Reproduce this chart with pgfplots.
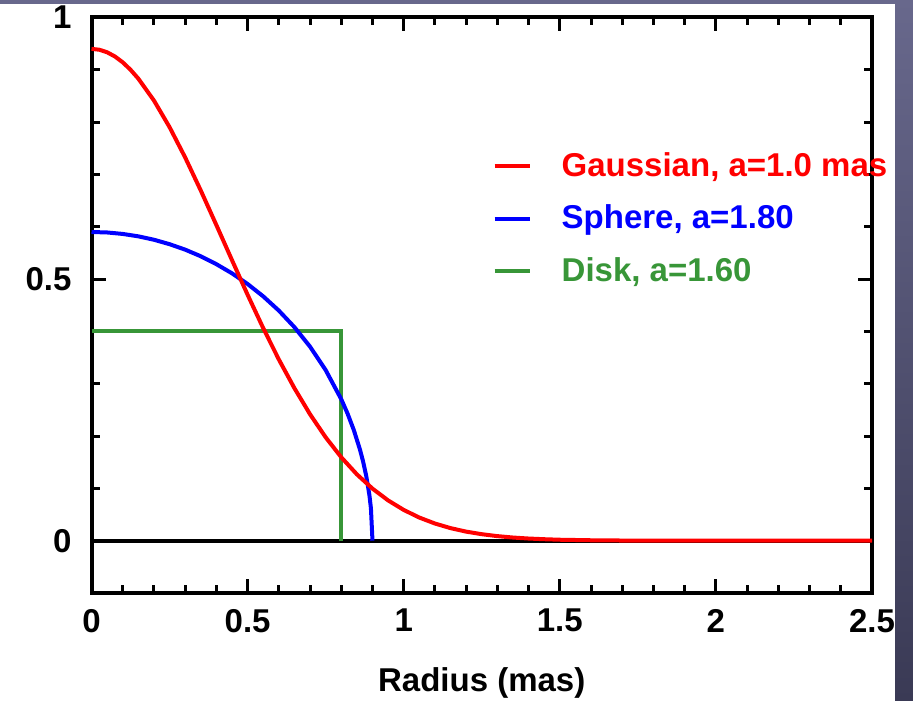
\documentclass[border=0pt]{standalone}
\usepackage{pgfplots}
\pgfplotsset{compat=1.18}
\usepackage{fontspec}
\setmainfont{Liberation Sans}
\definecolor{diskgreen}{RGB}{56,150,56}
\definecolor{bgtop}{RGB}{104,104,140}
\definecolor{bgbot}{RGB}{58,58,85}
\begin{document}
\begin{tikzpicture}[x=0.5pt,y=0.5pt]
\useasboundingbox (0,0) rectangle (913,700);
\shade[top color=bgtop, bottom color=bgbot] (0,0) rectangle (913,700);
\fill[white] (-10,-10) rectangle (895,696);
\begin{axis}[
  at={(45.75pt,53.5pt)}, anchor=south west,
  scale only axis, width=390.25pt, height=287.75pt,
  xmin=0, xmax=2.5, ymin=-0.1, ymax=1,
  xtick={0,0.5,1,1.5,2,2.5}, ytick={0,0.5,1},
  xticklabels={0,0.5,1,1.5,2,2.5}, yticklabels={0,0.5,1},
  minor xtick={0.1,0.2,0.3,0.4,0.6,0.7,0.8,0.9,1.1,1.2,1.3,1.4,1.6,1.7,1.8,1.9,2.1,2.2,2.3,2.4},
  minor ytick={-0.1,0.1,0.2,0.3,0.4,0.6,0.7,0.8,0.9},
  tick pos=both, tick align=inside,
  major tick length=7pt, minor tick length=4pt,
  every tick/.style={black, line width=1.5pt},
  axis line style={line width=2pt},
  ticklabel style={font=\bfseries\fontsize{16.5}{19}\selectfont},
  xticklabel style={yshift=-4.5pt},
  yticklabel style={xshift=-6.5pt},
  xlabel={Radius (mas)},
  xlabel style={font=\bfseries\fontsize{16.5}{19}\selectfont, at={(axis description cs:0.5,-0.1564)}, anchor=center},
  clip=false,
  reverse legend,
  legend cell align=left,
  legend image code/.code={\draw[#1, line width=2pt] (0pt,0pt) -- (17.5pt,0pt);},
  legend style={draw=none, fill=none, inner sep=0pt, outer sep=0pt,
    font=\bfseries\fontsize{16.5}{19}\selectfont,
    at={(axis description cs:0.514,0.766)}, anchor=north west,
    row sep=13pt, column sep=15pt,
    nodes={inner sep=0pt, outer sep=0pt}},
]
\addplot[black, line width=2pt, forget plot] coordinates {(0,0) (2.5,0)};
\addplot[diskgreen, line width=2pt] coordinates {(0,0.4) (0.8,0.4) (0.8,0)};
\addlegendentry[text=diskgreen]{Disk, a=1.60}
\addplot[blue, line width=2pt, line join=round] coordinates {
(0,0.59) (0.05,0.5891) (0.1,0.5863) (0.15,0.5817) (0.2,0.5752) (0.25,0.5667)
(0.3,0.5563) (0.35,0.5436) (0.4,0.5285) (0.45,0.5110) (0.5,0.4906)
(0.55,0.4670) (0.6,0.4398) (0.65,0.4081) (0.7,0.3708) (0.75,0.3261)
(0.8,0.2703) (0.82,0.2432) (0.84,0.2118) (0.86,0.1739) (0.87,0.1511)
(0.88,0.1237) (0.89,0.0877) (0.895,0.0621) (0.9,0)};
\addlegendentry[text=blue]{Sphere, a=1.80}
\addplot[red, line width=2pt, line join=round] coordinates {
(0,0.94) (0.025,0.9384) (0.05,0.9335) (0.075,0.9255) (0.1,0.9143) (0.125,0.9001)
(0.15,0.8831) (0.2,0.8413) (0.25,0.7904)
(0.3,0.7325) (0.35,0.6693) (0.4,0.6032) (0.45,0.5362) (0.5,0.47) (0.55,0.4063)
(0.6,0.3464) (0.65,0.2914) (0.7,0.2416) (0.75,0.1976) (0.8,0.1594) (0.85,0.1268)
(0.9,0.0995) (0.95,0.0770) (1.0,0.0588) (1.05,0.0442) (1.1,0.0328) (1.15,0.0240)
(1.2,0.0173) (1.25,0.0124) (1.3,0.0087) (1.35,0.0060) (1.4,0.0041) (1.45,0.0028)
(1.5,0.0018) (1.6,0.0008) (1.7,0.0003) (1.8,0.0001) (2.0,0) (2.5,0)};
\addlegendentry[text=red]{Gaussian, a=1.0 mas}
\end{axis}
\end{tikzpicture}
\end{document}
